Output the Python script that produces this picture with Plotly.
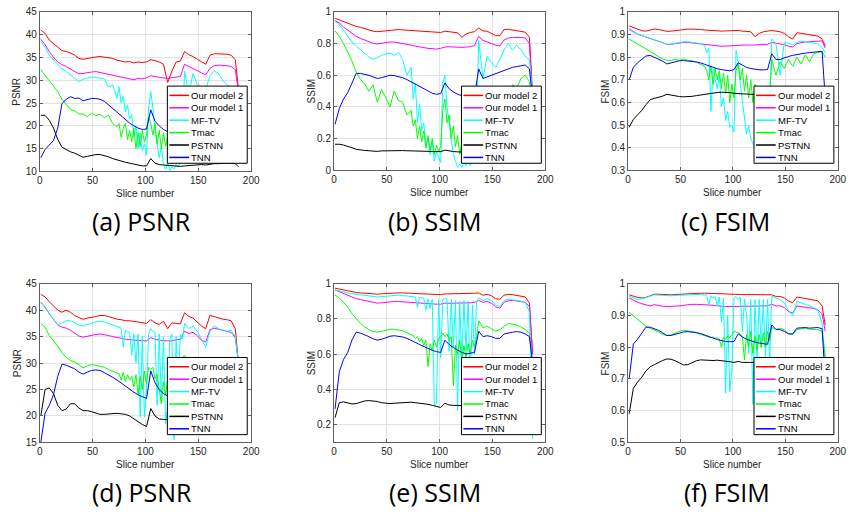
import plotly.graph_objects as go

W, H = 854, 519

NAMES = ["Our model 2", "Our model 1", "MF-TV", "Tmac", "PSTNN", "TNN"]
COLORS = ["#ff0000", "#ff00ff", "#00ffff", "#00ff00", "#000000", "#0000ff"]

# slice positions (smooth series)
X = [1, 5, 9, 13, 17, 21, 25, 29, 33, 37,
     41, 45, 49, 53, 57, 61, 65, 69, 73, 77,
     81, 85, 89, 93, 97, 101, 105, 109, 113, 117,
     121, 125, 129, 133, 137, 141, 145, 149, 153, 157,
     161, 165, 169, 173, 177, 181, 185, 188]
# slice positions (noisy series, denser in the middle)
XN = [1, 5, 9, 13, 17, 21, 25, 29, 33, 37,
      41, 45, 49, 53, 57, 61, 65, 69, 73,
      75, 77, 79, 81, 83, 85, 87, 89, 91, 93,
      95, 97, 99, 101, 103, 105, 107, 109, 111, 113,
      115, 117, 119, 121, 123, 125, 127, 129, 131, 133,
      135, 137,
      141, 145, 149, 153, 157, 161, 165, 169, 173, 177, 181, 185, 188]

# ---------------- (a) PSNR ----------------
A_OUR2 = [41.0, 40.3, 38.8, 38.0, 37.2, 36.5, 36.3, 36.0, 35.5, 34.8,
          34.6, 34.8, 35.0, 35.1, 35.2, 35.1, 35.0, 34.8, 34.4, 34.2,
          34.0, 34.1, 33.8, 34.0, 33.9, 34.0, 34.5, 34.3, 34.0, 33.5,
          29.5, 32.0, 34.0, 34.2, 36.3, 35.6, 35.2, 34.6, 34.0, 33.5,
          35.5, 35.8, 35.8, 35.8, 35.7, 35.5, 34.5, 28.0]
A_OUR1 = [39.0, 37.8, 36.3, 35.0, 34.0, 33.4, 33.0, 32.5, 32.0, 31.4,
          31.5, 31.7, 31.8, 31.9, 31.7, 31.5, 31.3, 31.0, 30.8, 30.6,
          30.4, 30.3, 30.1, 30.4, 30.3, 30.5, 31.0, 30.8, 30.6, 30.5,
          30.4, 30.6, 30.7, 30.8, 33.5, 33.0, 32.6, 32.1, 31.6, 31.2,
          32.6, 33.2, 33.3, 33.3, 33.2, 33.0, 32.3, 27.5]
A_MFTV = [38.5, 37.2, 35.5, 34.5, 33.5, 32.5, 32.0, 31.2, 30.5, 29.7,
          30.2, 30.5, 30.7, 30.6, 30.5, 30.3, 28.5, 29.0, 26.0,
          28.5, 25.0, 26.5, 23.0, 24.5, 21.5, 22.5, 17.5, 20.0, 15.0,
          18.5, 14.5, 16.0, 13.5, 24.0, 27.5, 24.0, 19.0, 16.0, 13.0,
          15.5, 11.5, 10.5, 12.0, 10.2, 11.0, 10.5, 11.5, 11.0, 12.0,
          20.0, 32.0,
          27.0, 31.5, 29.0, 28.5, 28.0, 31.0, 32.0, 31.5, 30.0, 29.0, 28.5, 28.5, 27.0]
A_TMAC = [32.4, 31.0, 29.9, 28.6, 27.5, 25.8, 24.6, 23.6, 23.3, 22.6,
          22.6, 22.0, 22.8, 22.2, 22.6, 21.8, 22.3, 20.5, 19.8,
          20.5, 17.5, 19.5, 20.5, 17.0, 19.0, 16.5, 19.5, 15.0, 18.5,
          15.5, 19.0, 16.5, 18.0, 22.0, 20.5, 18.0, 20.5, 16.0, 19.0,
          15.0, 18.5, 15.5, 17.5, 14.5, 17.0, 15.5, 17.5, 15.0, 16.5,
          15.5, 19.0,
          18.0, 20.0, 19.0, 20.5, 19.5, 21.0, 20.5, 21.5, 21.0, 22.0, 22.0, 21.5, 20.0]
A_PSTNN = [22.3, 22.3, 21.2, 19.5, 17.0, 15.3, 14.8, 14.3, 14.0, 13.5,
           13.1, 13.3, 13.5, 13.7, 13.7, 13.5, 13.2, 12.8, 12.5, 12.2,
           12.0, 11.8, 11.6, 11.4, 11.2, 11.2, 12.8, 11.8, 11.5, 11.4,
           11.3, 11.2, 11.2, 11.1, 11.2, 11.3, 11.4, 11.5, 11.5, 11.4,
           11.6, 11.7, 11.7, 11.8, 11.8, 11.8, 11.7, 11.0]
A_TNN = [13.0, 14.8, 15.8, 16.8, 19.5, 24.9, 25.8, 26.4, 26.0, 26.1,
         25.5, 25.7, 26.0, 26.0, 25.8, 25.4, 24.6, 23.6, 22.8, 22.0,
         21.3, 20.6, 20.0, 19.5, 19.2, 19.3, 23.5, 21.0, 20.0, 19.2,
         18.7, 18.5, 18.3, 18.2, 26.5, 25.5, 26.0, 26.5, 26.8, 27.0,
         27.3, 27.5, 27.7, 28.0, 28.3, 28.5, 28.0, 22.0]

# ---------------- (b) SSIM ----------------
B_OUR2 = [0.960, 0.950, 0.935, 0.925, 0.915, 0.908, 0.903, 0.895, 0.885, 0.878,
          0.875, 0.878, 0.882, 0.885, 0.888, 0.888, 0.886, 0.884, 0.882, 0.880,
          0.878, 0.876, 0.874, 0.872, 0.870, 0.870, 0.878, 0.875, 0.872, 0.868,
          0.840, 0.860, 0.870, 0.875, 0.898, 0.880, 0.878, 0.865, 0.850, 0.850,
          0.888, 0.890, 0.886, 0.884, 0.880, 0.872, 0.840, 0.480]
B_OUR1 = [0.945, 0.930, 0.905, 0.885, 0.862, 0.845, 0.833, 0.822, 0.812, 0.802,
          0.797, 0.802, 0.806, 0.810, 0.810, 0.806, 0.800, 0.795, 0.790, 0.784,
          0.778, 0.773, 0.770, 0.768, 0.765, 0.770, 0.778, 0.780, 0.778, 0.775,
          0.776, 0.778, 0.780, 0.788, 0.845, 0.820, 0.812, 0.800, 0.790, 0.785,
          0.822, 0.835, 0.838, 0.840, 0.838, 0.835, 0.800, 0.450]
B_MFTV = [0.940, 0.920, 0.885, 0.850, 0.810, 0.785, 0.760, 0.735, 0.715, 0.700,
          0.715, 0.725, 0.735, 0.740, 0.725, 0.745, 0.700, 0.600, 0.650,
          0.450, 0.550, 0.300, 0.420, 0.250, 0.300, 0.150, 0.200, 0.100, 0.180,
          0.060, 0.120, 0.080, 0.050, 0.550, 0.600, 0.400, 0.300, 0.180, 0.100,
          0.060, 0.020, 0.040, 0.020, 0.050, 0.030, 0.060, 0.030, 0.080, 0.050,
          0.300, 0.820,
          0.580, 0.720, 0.680, 0.650, 0.700, 0.760, 0.800, 0.760, 0.790, 0.760, 0.720, 0.700, 0.480]
B_TMAC = [0.880, 0.845, 0.800, 0.750, 0.690, 0.620, 0.575, 0.545, 0.500, 0.540,
          0.430, 0.510, 0.460, 0.400, 0.500, 0.440, 0.430, 0.350, 0.380,
          0.280, 0.320, 0.200, 0.280, 0.180, 0.250, 0.140, 0.220, 0.120, 0.200,
          0.100, 0.160, 0.120, 0.150, 0.380, 0.450, 0.300, 0.350, 0.200, 0.280,
          0.150, 0.220, 0.100, 0.180, 0.120, 0.200, 0.150, 0.250, 0.180, 0.300,
          0.350, 0.450,
          0.400, 0.480, 0.430, 0.450, 0.480, 0.500, 0.470, 0.540, 0.520, 0.580, 0.600, 0.560, 0.400]
B_PSTNN = [0.165, 0.165, 0.160, 0.153, 0.143, 0.133, 0.128, 0.126, 0.124, 0.122,
           0.120, 0.123, 0.124, 0.125, 0.125, 0.126, 0.125, 0.124, 0.123, 0.122,
           0.121, 0.120, 0.119, 0.118, 0.117, 0.118, 0.128, 0.122, 0.119, 0.117,
           0.115, 0.115, 0.115, 0.115, 0.116, 0.116, 0.117, 0.117, 0.118, 0.118,
           0.118, 0.119, 0.119, 0.119, 0.120, 0.120, 0.118, 0.100]
B_TNN = [0.290, 0.390, 0.450, 0.490, 0.550, 0.612, 0.612, 0.608, 0.600, 0.590,
         0.580, 0.585, 0.595, 0.600, 0.598, 0.593, 0.585, 0.573, 0.558, 0.542,
         0.527, 0.512, 0.498, 0.487, 0.480, 0.485, 0.552, 0.515, 0.495, 0.480,
         0.472, 0.468, 0.466, 0.470, 0.640, 0.580, 0.590, 0.600, 0.610, 0.620,
         0.630, 0.640, 0.650, 0.655, 0.662, 0.665, 0.640, 0.450]

# ---------------- (c) FSIM ----------------
C_OUR2 = [0.938, 0.930, 0.922, 0.917, 0.915, 0.920, 0.924, 0.922, 0.918, 0.914,
          0.915, 0.918, 0.920, 0.922, 0.924, 0.924, 0.924, 0.922, 0.920, 0.918,
          0.917, 0.916, 0.915, 0.916, 0.917, 0.916, 0.918, 0.915, 0.914, 0.912,
          0.890, 0.905, 0.912, 0.915, 0.918, 0.915, 0.912, 0.905, 0.890, 0.880,
          0.908, 0.905, 0.902, 0.900, 0.898, 0.893, 0.880, 0.850]
C_OUR1 = [0.925, 0.912, 0.902, 0.895, 0.888, 0.882, 0.876, 0.870, 0.864, 0.856,
          0.857, 0.860, 0.863, 0.865, 0.865, 0.863, 0.860, 0.858, 0.855, 0.853,
          0.851, 0.849, 0.848, 0.849, 0.850, 0.851, 0.853, 0.855, 0.854, 0.853,
          0.854, 0.855, 0.856, 0.857, 0.865, 0.862, 0.860, 0.855, 0.848, 0.845,
          0.860, 0.865, 0.867, 0.868, 0.869, 0.870, 0.872, 0.840]
C_MFTV = [0.922, 0.910, 0.902, 0.895, 0.888, 0.882, 0.876, 0.870, 0.864, 0.857,
          0.858, 0.862, 0.866, 0.868, 0.868, 0.866, 0.864, 0.860, 0.850,
          0.820, 0.840, 0.560, 0.750, 0.700, 0.660, 0.720, 0.580, 0.620, 0.520,
          0.560, 0.490, 0.500, 0.470, 0.830, 0.780, 0.680, 0.600, 0.520, 0.460,
          0.500, 0.440, 0.420, 0.400, 0.390, 0.380, 0.400, 0.370, 0.380, 0.400,
          0.500, 0.880,
          0.860, 0.720, 0.865, 0.862, 0.855, 0.865, 0.870, 0.868, 0.865, 0.862, 0.858, 0.845, 0.820]
C_TMAC = [0.880, 0.868, 0.858, 0.848, 0.836, 0.826, 0.814, 0.802, 0.792, 0.786,
          0.786, 0.790, 0.786, 0.792, 0.786, 0.784, 0.778, 0.770, 0.760,
          0.740, 0.700, 0.760, 0.680, 0.750, 0.700, 0.740, 0.660, 0.730, 0.640,
          0.720, 0.600, 0.680, 0.620, 0.740, 0.770, 0.700, 0.750, 0.650, 0.720,
          0.620, 0.700, 0.600, 0.680, 0.620, 0.660, 0.600, 0.670, 0.620, 0.660,
          0.640, 0.790,
          0.720, 0.780, 0.750, 0.790, 0.760, 0.800, 0.770, 0.810, 0.780, 0.815, 0.820, 0.825, 0.800]
C_PSTNN = [0.490, 0.525, 0.545, 0.565, 0.590, 0.612, 0.618, 0.622, 0.628, 0.636,
           0.632, 0.628, 0.626, 0.625, 0.625, 0.627, 0.630, 0.633, 0.637, 0.640,
           0.642, 0.644, 0.645, 0.645, 0.644, 0.640, 0.640, 0.638, 0.637, 0.636,
           0.636, 0.635, 0.635, 0.634, 0.640, 0.645, 0.645, 0.646, 0.646, 0.647,
           0.647, 0.648, 0.648, 0.648, 0.648, 0.648, 0.645, 0.600]
C_TNN = [0.700, 0.755, 0.775, 0.790, 0.805, 0.808, 0.800, 0.792, 0.782, 0.770,
         0.775, 0.780, 0.784, 0.785, 0.784, 0.782, 0.779, 0.775, 0.768, 0.760,
         0.754, 0.749, 0.745, 0.742, 0.740, 0.745, 0.775, 0.765, 0.755, 0.750,
         0.746, 0.744, 0.744, 0.745, 0.815, 0.790, 0.790, 0.798, 0.803, 0.808,
         0.812, 0.815, 0.818, 0.820, 0.823, 0.825, 0.826, 0.620]

# ---------------- (d) PSNR ----------------
D_OUR2 = [43.0, 42.5, 41.6, 40.8, 40.0, 39.6, 40.0, 39.6, 39.0, 38.6,
          38.3, 38.5, 38.6, 38.8, 39.0, 39.0, 38.8, 38.5, 38.3, 38.2,
          38.0, 38.0, 37.9, 37.8, 37.7, 37.5, 38.2, 37.6, 37.3, 37.9,
          36.5, 37.6, 37.5, 37.4, 39.5, 38.8, 38.5, 37.8, 37.0, 36.5,
          39.0, 38.8, 38.5, 38.3, 38.2, 38.0, 36.5, 30.0]
D_OUR1 = [41.5, 40.6, 39.3, 38.3, 37.2, 36.8, 36.6, 36.2, 35.6, 35.1,
          34.9, 35.1, 35.3, 35.4, 35.5, 35.4, 35.2, 35.0, 34.9, 34.7,
          34.5, 34.4, 34.3, 34.3, 34.2, 34.2, 34.8, 34.5, 34.3, 34.2,
          34.2, 34.2, 34.4, 34.5, 36.0, 35.6, 35.8, 35.2, 34.3, 34.0,
          36.3, 36.6, 36.4, 36.2, 36.0, 35.8, 34.8, 30.0]
D_MFTV = [41.5, 40.5, 39.3, 38.3, 37.2, 37.6, 38.0, 38.0, 37.6, 37.2,
          37.0, 37.3, 37.6, 37.8, 37.9, 37.8, 37.5, 37.2, 37.0,
          36.8, 36.6, 33.0, 36.2, 36.0, 35.8, 31.5, 35.5, 30.0, 35.5,
          19.8, 35.0, 19.8, 25.0, 35.5, 36.5, 36.0, 35.8, 22.0, 35.5,
          22.5, 35.0, 18.5, 21.5, 34.5, 35.5, 15.5, 35.0, 25.0, 35.5,
          34.5, 37.5,
          36.5, 37.0, 36.0, 34.5, 33.0, 36.0, 37.0, 36.5, 36.2, 36.0, 36.2, 35.0, 30.0]
D_TMAC = [37.5, 36.8, 35.2, 34.3, 33.2, 32.0, 31.1, 30.5, 30.2, 29.7,
          29.1, 29.5, 29.7, 29.6, 29.4, 29.2, 28.8, 28.4, 28.1,
          28.0, 26.8, 28.2, 26.5, 27.8, 26.8, 27.5, 25.5, 27.8, 24.0,
          27.5, 25.0, 28.5, 26.0, 29.2, 28.8, 29.2, 27.0, 27.8, 25.0,
          22.3, 26.5, 24.0, 27.0, 23.5, 27.5, 25.0, 28.5, 27.0, 29.5,
          31.0, 31.5,
          30.0, 30.5, 30.0, 29.5, 29.0, 30.5, 30.8, 30.6, 30.5, 30.3, 30.0, 29.5, 27.0]
D_PSTNN = [20.0, 25.0, 25.3, 24.2, 22.0, 21.0, 21.3, 22.3, 22.3, 21.5,
           21.0, 21.0, 20.8, 20.5, 20.3, 20.3, 20.4, 20.4, 20.5, 20.4,
           20.3, 20.0, 19.4, 18.9, 18.4, 18.0, 21.4, 20.0, 19.4, 19.3,
           19.3, 19.3, 19.2, 19.2, 19.5, 19.5, 19.4, 19.3, 19.2, 19.2,
           19.4, 19.5, 19.5, 19.5, 19.5, 19.4, 19.3, 18.0]
D_TNN = [15.0, 20.5, 22.0, 24.0, 27.5, 29.8, 29.6, 29.3, 28.9, 28.3,
         27.9, 28.3, 28.6, 28.7, 28.6, 28.2, 27.8, 27.3, 26.8, 26.2,
         25.7, 25.1, 24.5, 24.0, 23.6, 23.3, 28.5, 26.3, 25.0, 24.2,
         23.8, 23.6, 23.5, 23.5, 28.5, 27.5, 27.8, 28.0, 27.5, 27.0,
         28.2, 28.5, 28.5, 28.4, 28.3, 28.0, 27.5, 22.0]

# ---------------- (e) SSIM ----------------
E_OUR2 = [0.975, 0.970, 0.963, 0.958, 0.953, 0.950, 0.948, 0.946, 0.944, 0.942,
          0.941, 0.943, 0.945, 0.947, 0.948, 0.948, 0.948, 0.947, 0.946, 0.945,
          0.944, 0.943, 0.942, 0.941, 0.940, 0.938, 0.942, 0.942, 0.943, 0.944,
          0.944, 0.945, 0.945, 0.946, 0.948, 0.935, 0.940, 0.932, 0.915, 0.912,
          0.935, 0.940, 0.938, 0.935, 0.930, 0.925, 0.890, 0.600]
E_OUR1 = [0.965, 0.955, 0.943, 0.932, 0.922, 0.915, 0.910, 0.904, 0.898, 0.892,
          0.890, 0.892, 0.895, 0.897, 0.899, 0.899, 0.897, 0.895, 0.893, 0.891,
          0.889, 0.887, 0.886, 0.885, 0.884, 0.884, 0.890, 0.889, 0.889, 0.890,
          0.890, 0.891, 0.892, 0.894, 0.905, 0.895, 0.900, 0.890, 0.870, 0.860,
          0.895, 0.903, 0.905, 0.902, 0.900, 0.895, 0.870, 0.600]
E_MFTV = [0.965, 0.958, 0.952, 0.948, 0.943, 0.940, 0.936, 0.932, 0.929, 0.926,
          0.925, 0.927, 0.930, 0.932, 0.934, 0.935, 0.933, 0.931, 0.928,
          0.926, 0.925, 0.865, 0.922, 0.920, 0.918, 0.850, 0.915, 0.860, 0.912,
          0.310, 0.320, 0.910, 0.580, 0.912, 0.915, 0.912, 0.620, 0.910, 0.640,
          0.905, 0.280, 0.900, 0.560, 0.905, 0.620, 0.900, 0.420, 0.880, 0.600,
          0.900, 0.920,
          0.905, 0.915, 0.905, 0.880, 0.870, 0.905, 0.912, 0.910, 0.905, 0.900, 0.895, 0.840, 0.120]
E_TMAC = [0.935, 0.920, 0.895, 0.868, 0.830, 0.800, 0.775, 0.755, 0.740, 0.730,
          0.725, 0.730, 0.738, 0.742, 0.742, 0.738, 0.733, 0.722, 0.710,
          0.705, 0.690, 0.700, 0.670, 0.690, 0.650, 0.680, 0.530, 0.660, 0.620,
          0.680, 0.640, 0.690, 0.700, 0.720, 0.700, 0.715, 0.680, 0.700, 0.420,
          0.650, 0.600, 0.680, 0.550, 0.650, 0.580, 0.660, 0.600, 0.680, 0.640,
          0.700, 0.790,
          0.750, 0.760, 0.745, 0.730, 0.740, 0.760, 0.775, 0.770, 0.765, 0.755, 0.740, 0.720, 0.550]
E_PSTNN = [0.240, 0.325, 0.330, 0.325, 0.318, 0.320, 0.328, 0.335, 0.337, 0.335,
           0.332, 0.325, 0.322, 0.320, 0.322, 0.324, 0.326, 0.327, 0.328, 0.325,
           0.323, 0.320, 0.316, 0.310, 0.303, 0.298, 0.322, 0.312, 0.310, 0.309,
           0.308, 0.307, 0.306, 0.305, 0.305, 0.305, 0.304, 0.304, 0.304, 0.303,
           0.303, 0.303, 0.302, 0.302, 0.302, 0.301, 0.300, 0.250]
E_TNN = [0.290, 0.500, 0.570, 0.610, 0.680, 0.725, 0.720, 0.712, 0.700, 0.688,
         0.680, 0.685, 0.695, 0.702, 0.705, 0.703, 0.698, 0.690, 0.680, 0.667,
         0.655, 0.643, 0.632, 0.622, 0.615, 0.610, 0.680, 0.655, 0.638, 0.622,
         0.610, 0.602, 0.605, 0.610, 0.730, 0.700, 0.705, 0.700, 0.690, 0.690,
         0.715, 0.722, 0.725, 0.728, 0.725, 0.715, 0.700, 0.550]

# ---------------- (f) FSIM ----------------
F_OUR2 = [0.965, 0.960, 0.957, 0.955, 0.957, 0.962, 0.967, 0.967, 0.966, 0.965,
          0.965, 0.966, 0.967, 0.968, 0.968, 0.969, 0.970, 0.970, 0.970, 0.970,
          0.969, 0.969, 0.968, 0.968, 0.967, 0.966, 0.965, 0.966, 0.966, 0.966,
          0.966, 0.965, 0.965, 0.964, 0.965, 0.960, 0.960, 0.955, 0.945, 0.940,
          0.958, 0.956, 0.954, 0.952, 0.950, 0.946, 0.930, 0.870]
F_OUR1 = [0.955, 0.948, 0.942, 0.937, 0.933, 0.930, 0.934, 0.931, 0.929, 0.928,
          0.928, 0.929, 0.930, 0.932, 0.934, 0.935, 0.935, 0.935, 0.934, 0.933,
          0.932, 0.930, 0.929, 0.928, 0.928, 0.928, 0.929, 0.930, 0.930, 0.930,
          0.930, 0.930, 0.930, 0.931, 0.935, 0.930, 0.930, 0.925, 0.912, 0.908,
          0.930, 0.928, 0.926, 0.925, 0.922, 0.918, 0.905, 0.850]
F_MFTV = [0.960, 0.955, 0.951, 0.952, 0.956, 0.961, 0.965, 0.964, 0.963, 0.962,
          0.962, 0.963, 0.964, 0.965, 0.965, 0.966, 0.966, 0.966, 0.965,
          0.964, 0.935, 0.962, 0.955, 0.960, 0.930, 0.958, 0.880, 0.955, 0.655,
          0.900, 0.660, 0.730, 0.955, 0.960, 0.950, 0.958, 0.850, 0.950, 0.900,
          0.780, 0.950, 0.620, 0.950, 0.760, 0.950, 0.800, 0.950, 0.760, 0.950,
          0.750, 0.960,
          0.955, 0.950, 0.940, 0.915, 0.900, 0.945, 0.940, 0.935, 0.930, 0.925, 0.915, 0.875, 0.760]
F_TMAC = [0.910, 0.898, 0.888, 0.877, 0.866, 0.860, 0.855, 0.848, 0.840, 0.837,
          0.838, 0.845, 0.850, 0.853, 0.852, 0.849, 0.845, 0.840, 0.836,
          0.834, 0.832, 0.830, 0.832, 0.828, 0.830, 0.826, 0.800, 0.830, 0.825,
          0.835, 0.830, 0.840, 0.850, 0.848, 0.845, 0.842, 0.830, 0.760, 0.840,
          0.800, 0.850, 0.780, 0.835, 0.790, 0.840, 0.800, 0.845, 0.800, 0.850,
          0.820, 0.862,
          0.856, 0.860, 0.855, 0.842, 0.840, 0.855, 0.858, 0.860, 0.857, 0.855, 0.855, 0.850, 0.770]
F_PSTNN = [0.590, 0.670, 0.690, 0.705, 0.725, 0.738, 0.745, 0.752, 0.758, 0.763,
           0.762, 0.757, 0.750, 0.744, 0.745, 0.752, 0.757, 0.760, 0.759, 0.758,
           0.758, 0.759, 0.758, 0.756, 0.754, 0.752, 0.755, 0.752, 0.751, 0.752,
           0.752, 0.752, 0.752, 0.752, 0.753, 0.753, 0.754, 0.754, 0.754, 0.755,
           0.755, 0.755, 0.755, 0.756, 0.756, 0.756, 0.755, 0.720]
F_TNN = [0.700, 0.810, 0.825, 0.845, 0.863, 0.863, 0.858, 0.853, 0.845, 0.837,
         0.837, 0.841, 0.845, 0.848, 0.849, 0.848, 0.846, 0.843, 0.839, 0.835,
         0.829, 0.824, 0.820, 0.818, 0.817, 0.818, 0.842, 0.832, 0.825, 0.820,
         0.816, 0.813, 0.811, 0.809, 0.870, 0.856, 0.855, 0.850, 0.842, 0.842,
         0.860, 0.862, 0.862, 0.860, 0.860, 0.862, 0.858, 0.700]

Y_TICKS_PSNR_A = [10, 15, 20, 25, 30, 35, 40, 45]
Y_TICKS_PSNR_D = [15, 20, 25, 30, 35, 40, 45]
Y_TICKS_SSIM_B = [0, 0.2, 0.4, 0.6, 0.8, 1]
Y_TICKS_SSIM_E = [0.2, 0.4, 0.6, 0.8, 1]
Y_TICKS_FSIM_C = [0.3, 0.4, 0.5, 0.6, 0.7, 0.8, 0.9, 1]
Y_TICKS_FSIM_F = [0.5, 0.6, 0.7, 0.8, 0.9, 1]
X_TICKS = [0, 50, 100, 150, 200]

# pixel geometry of each panel: (left, right, top, bottom)
PANELS = [
    dict(series=[A_OUR2, A_OUR1, A_MFTV, A_TMAC, A_PSTNN, A_TNN], box=(37.3, 251.7, 6, 169.3),
         yr=[10, 45], yt=Y_TICKS_PSNR_A, ylab="PSNR", cap="(a) PSNR", capxy=(140, 220)),
    dict(series=[B_OUR2, B_OUR1, B_MFTV, B_TMAC, B_PSTNN, B_TNN], box=(335.7, 550, 6, 168.3),
         yr=[0, 1], yt=Y_TICKS_SSIM_B, ylab="SSIM", cap="(b) SSIM", capxy=(438, 220)),
    dict(series=[C_OUR2, C_OUR1, C_MFTV, C_TMAC, C_PSTNN, C_TNN], box=(634, 846.7, 6, 168.3),
         yr=[0.3, 1], yt=Y_TICKS_FSIM_C, ylab="FSIM", cap="(c) FSIM", capxy=(733, 220)),
    dict(series=[D_OUR2, D_OUR1, D_MFTV, D_TMAC, D_PSTNN, D_TNN], box=(37.3, 251.7, 284.3, 446.7),
         yr=[15, 45], yt=Y_TICKS_PSNR_D, ylab="PSNR", cap="(d) PSNR", capxy=(141, 497)),
    dict(series=[E_OUR2, E_OUR1, E_MFTV, E_TMAC, E_PSTNN, E_TNN], box=(335.7, 550, 284.3, 446.7),
         yr=[0.1, 1], yt=Y_TICKS_SSIM_E, ylab="SSIM", cap="(e) SSIM", capxy=(438, 497)),
    dict(series=[F_OUR2, F_OUR1, F_MFTV, F_TMAC, F_PSTNN, F_TNN], box=(634, 846.7, 284.3, 446.7),
         yr=[0.5, 1], yt=Y_TICKS_FSIM_F, ylab="FSIM", cap="(f) FSIM", capxy=(734, 497)),
]


def px(x):
    return x / W


def py(y):
    return 1 - y / H


def fmt(v):
    return "%g" % v


AXCOL = "#5e5e5e"
TICKFONT = dict(family="Liberation Sans, Arial, sans-serif", size=10, color="#262626")
SMALLFONT = dict(family="Liberation Sans, Arial, sans-serif", size=10, color="#262626")
LEGFONT = dict(family="Liberation Sans, Arial, sans-serif", size=9.5, color="#000000")

fig = go.Figure()
layout = {}
shapes = []
annotations = []

for i, p in enumerate(PANELS):
    n = i + 1
    xa = "x" if n == 1 else "x%d" % n
    ya = "y" if n == 1 else "y%d" % n
    l, r, t, b = p["box"]
    for name, color, ys in zip(NAMES, COLORS, p["series"]):
        xs = XN if len(ys) == len(XN) else X
        assert len(xs) == len(ys), (name, len(ys))
        fig.add_trace(go.Scatter(x=xs, y=ys, mode="lines", name=name,
                                 line=dict(color=color, width=1),
                                 xaxis=xa, yaxis=ya, showlegend=False,
                                 hoverinfo="skip"))
    common = dict(showline=True, linecolor=AXCOL, linewidth=1, mirror="ticks",
                  ticks="inside", ticklen=3, tickcolor=AXCOL, tickwidth=1,
                  showgrid=True, gridcolor="#e2e2e2", gridwidth=1,
                  zeroline=False, tickfont=TICKFONT, fixedrange=True)
    layout["xaxis" if n == 1 else "xaxis%d" % n] = dict(
        domain=[px(l), px(r)], range=[0, 200], anchor=ya,
        tickmode="array", tickvals=X_TICKS, ticktext=[str(v) for v in X_TICKS], **common)
    layout["yaxis" if n == 1 else "yaxis%d" % n] = dict(
        domain=[py(b), py(t)], range=p["yr"], anchor=xa,
        tickmode="array", tickvals=p["yt"], ticktext=[fmt(v) for v in p["yt"]], **common)

    # axis titles
    annotations.append(dict(x=px((l + r) / 2), y=py(b + 23), xref="paper", yref="paper",
                            text="Slice number", showarrow=False, font=SMALLFONT,
                            xanchor="center", yanchor="middle"))
    annotations.append(dict(x=px(l - 23), y=py((t + b) / 2), xref="paper", yref="paper",
                            text=p["ylab"], showarrow=False, font=SMALLFONT, textangle=-90,
                            xanchor="center", yanchor="middle"))
    # caption
    cx, cy = p["capxy"]
    annotations.append(dict(x=px(cx), y=py(cy), xref="paper", yref="paper",
                            text=p["cap"], showarrow=False,
                            font=dict(family="Open Sans, Noto Sans, sans-serif", size=25, color="#000000"),
                            xanchor="center", yanchor="middle"))

    # legend box (drawn manually, MATLAB style)
    LR = r - 4
    LL = LR - 81
    LT = t + 76 if t < 100 else t + 75.5
    LB = LT + 79
    shapes.append(dict(type="rect", xref="paper", yref="paper", x0=px(LL), x1=px(LR),
                       y0=py(LB), y1=py(LT), fillcolor="white",
                       line=dict(color="#000000", width=1), layer="above"))
    for k, (name, color) in enumerate(zip(NAMES, COLORS)):
        yc = LT + 9.5 + k * 12.7
        shapes.append(dict(type="line", xref="paper", yref="paper", x0=px(LL + 2), x1=px(LL + 22),
                           y0=py(yc), y1=py(yc), line=dict(color=color, width=1.5), layer="above"))
        annotations.append(dict(x=px(LL + 22), y=py(yc), xref="paper", yref="paper",
                                text=name, showarrow=False, font=LEGFONT,
                                xanchor="left", yanchor="middle"))

fig.update_layout(**layout)
fig.update_layout(width=W, height=H, margin=dict(l=0, r=0, t=0, b=0),
                  paper_bgcolor="white", plot_bgcolor="white",
                  shapes=shapes, annotations=annotations, showlegend=False)

fig.write_html("out.html", config={"displayModeBar": False})
